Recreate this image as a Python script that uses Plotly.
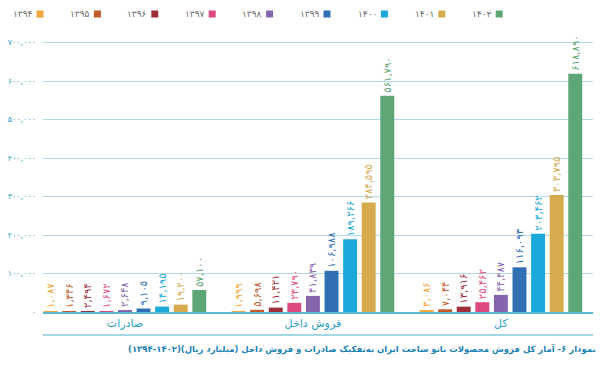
import plotly.graph_objects as go

# ---- data ----
categories = ['صادرات', 'فروش داخل', 'کل']
years = ['1394', '1395', '1396', '1397', '1398', '1399', '1400', '1401', '1402']
exports = [1087, 1346, 2494, 1672, 2648, 9105, 14195, 19200, 57100]
domestic = [1999, 5698, 11421, 23790, 41839, 106988, 189266, 284595, 561790]
total = [3086, 7044, 13916, 25462, 44487, 116093, 203462, 303795, 618890]
y_ticks = [0, 100000, 200000, 300000, 400000, 500000, 600000, 700000]
title_text = 'نمودار ۶- آمار کل فروش محصولات نانو ساخت ایران به‌تفکیک صادرات و فروش داخل (میلیارد ریال)(۱۴۰۲-۱۳۹۴)'

colors = ['#F2A73B', '#C4592B', '#9E2F3A', '#DE4A80', '#8566AE', '#3170B2',
          '#1BA9D9', '#D6AB4E', '#5EA676']

FA = str.maketrans('0123456789', '۰۱۲۳۴۵۶۷۸۹')


def fa(n):
    if isinstance(n, str):
        return n.translate(FA)
    return f'{n:,}'.translate(FA)


FONT = 'DejaVu Sans'
W, H = 609, 369
ML, MR, MT, MB = 43, 16, 30, 57
PW = W - ML - MR
PH = H - MT - MB


def px_x(p):
    return (p - ML) / PW


def px_y(p):
    return (H - MB - p) / PH


fig = go.Figure()
for i, yr in enumerate(years):
    vals = [exports[i], domestic[i], total[i]]
    fig.add_trace(go.Bar(
        x=categories, y=vals, name=fa(yr),
        marker=dict(color=colors[i], line=dict(width=0)),
        text=[fa(v) for v in vals], textposition='outside', textangle=-90,
        textfont=dict(color=colors[i], size=10, family=FONT),
        constraintext='none', cliponaxis=False, showlegend=False,
        hoverinfo='skip',
    ))

shapes = []
annotations = []
# custom legend: text left of square
for i, yr in enumerate(years):
    cx = 40 + i * 57.4
    shapes.append(dict(type='rect', xref='paper', yref='paper',
                       x0=px_x(cx - 3.5), x1=px_x(cx + 3.5),
                       y0=px_y(17.5), y1=px_y(10.5),
                       fillcolor=colors[i], line=dict(width=0)))
    annotations.append(dict(xref='paper', yref='paper', x=px_x(cx - 5.5), y=px_y(14),
                            xanchor='right', yanchor='middle', showarrow=False,
                            text=fa(yr), font=dict(size=9, color='#6a6a6a', family=FONT)))

# line under category labels
shapes.append(dict(type='line', xref='paper', yref='paper', x0=0, x1=1,
                   y0=px_y(335), y1=px_y(335), line=dict(color='#86cadb', width=1.5)))

annotations.append(dict(xref='paper', yref='paper', x=px_x(598), y=px_y(349),
                        xanchor='right', yanchor='middle', showarrow=False,
                        text='<b>\u202B' + title_text + '\u202C</b>',
                        font=dict(size=8.5, color='#1b82b3', family='DejaVu Sans')))

fig.update_layout(
    width=W, height=H,
    margin=dict(l=ML, r=MR, t=MT, b=MB, autoexpand=False),
    paper_bgcolor='white', plot_bgcolor='white',
    barmode='group', bargap=0.11, bargroupgap=0.25,
    font=dict(family=FONT),
    shapes=shapes, annotations=annotations,
    xaxis=dict(type='category', range=[-0.436, 2.49], showgrid=False, automargin=False,
               showline=True, linecolor='#5cb8cf', linewidth=2,
               ticks='', tickfont=dict(size=11, color='#1fa3c4', family=FONT)),
    yaxis=dict(range=[0, 732500], tickvals=y_ticks, ticktext=[fa(v) for v in y_ticks],
               showgrid=True, gridcolor='#b3dae6', gridwidth=1, zeroline=False,
               showline=False, ticks='', ticklabelstandoff=6, automargin=False,
               tickfont=dict(size=8, color='#37a7c6', family=FONT)),
)

fig.write_html('out.html', config={'displayModeBar': False},
               post_script="document.body.style.margin='0';document.body.style.overflow='hidden';")
